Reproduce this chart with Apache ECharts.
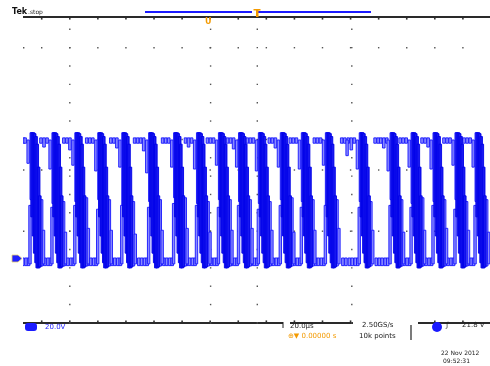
<!DOCTYPE html>
<html><head><meta charset="utf-8">
<script src="https://cdn.jsdelivr.net/npm/echarts/dist/echarts.min.js"></script>
<style>html,body{margin:0;padding:0;background:#fff}#c{width:490px;height:366px}</style>
</head><body><div id="c"></div>
<script>
// time in microseconds (20 us/div), voltage in volts relative to the channel-1 ground marker (20 V/div)
// each entry: [time, low, high] of one narrow pulse seen on the trace
const topFlats = [[0.2,60.5,63.3],[0.9,60.5,63.3],
[7.7,60.5,63.3],[9.0,58.5,63.3],[10.3,60.5,63.3],
[17.5,60.5,63.3],[18.8,60.5,63.3],[20.1,57.0,63.3],
[27.3,60.5,63.3],[28.6,60.5,63.3],[29.9,60.5,63.3],
[37.6,60.5,63.3],[38.9,60.5,63.3],[40.2,58.0,63.3],
[47.8,60.5,63.3],[49.1,60.5,63.3],[50.4,60.5,63.3],[51.7,56.5,63.3],
[59.8,60.5,63.3],[61.1,60.5,63.3],[62.4,60.5,63.3],
[69.6,60.5,63.3],[70.9,58.5,63.3],[72.2,60.5,63.3],
[79.0,60.5,63.3],[80.3,60.5,63.3],[81.6,60.5,63.3],
[87.6,60.5,63.3],[88.9,60.5,63.3],[90.2,57.5,63.3],
[96.1,60.5,63.3],[97.4,60.5,63.3],[98.7,60.5,63.3],
[105.5,60.5,63.3],[106.8,60.5,63.3],[108.1,58.0,63.3],
[114.5,60.5,63.3],[115.8,60.5,63.3],[117.1,60.5,63.3],
[124.8,60.5,63.3],[126.1,60.5,63.3],[127.4,60.5,63.3],
[136.5,60.5,63.3],[137.8,60.5,63.3],[139.3,60.5,63.3],[140.6,57.0,63.3],[141.9,60.5,63.3],
[150.8,60.5,63.3],[152.1,60.5,63.3],[153.2,60.5,63.3],[154.5,58.0,63.3],[155.8,60.5,63.3],
[161.5,60.5,63.3],[162.8,60.5,63.3],[164.1,60.5,63.3],
[170.9,60.5,63.3],[172.2,60.5,63.3],[173.5,58.5,63.3],
[180.3,60.5,63.3],[181.6,60.5,63.3],[182.9,60.5,63.3],
[188.9,60.5,63.3],[190.2,60.5,63.3],[191.5,60.5,63.3]];
const bottomFlats = [[0.0,-3.5,0.5],[1.3,-3.5,0.5],[2.4,-3.5,0.5],
[8.2,-3.5,0.5],[9.4,-3.5,0.5],[10.7,-3.5,0.5],[11.8,-3.5,0.5],
[18.0,-3.5,0.5],[19.2,-3.5,0.5],[20.5,-3.5,0.5],[21.6,-3.5,0.5],
[27.8,-3.5,0.5],[29.0,-3.5,0.5],[30.3,-3.5,0.5],[31.4,-3.5,0.5],
[38.1,-3.5,0.5],[39.3,-3.5,0.5],[40.6,-3.5,0.5],[41.7,-3.5,0.5],
[49.6,-3.5,0.5],[50.8,-3.5,0.5],[52.1,-3.5,0.5],[53.2,-3.5,0.5],
[60.3,-3.5,0.5],[61.5,-3.5,0.5],[62.8,-3.5,0.5],[63.9,-3.5,0.5],
[70.1,-3.5,0.5],[71.3,-3.5,0.5],[72.6,-3.5,0.5],[73.7,-3.5,0.5],
[79.5,-3.5,0.5],[80.7,-3.5,0.5],[82.0,-3.5,0.5],[83.1,-3.5,0.5],
[88.1,-3.5,0.5],[89.3,-3.5,0.5],[90.6,-3.5,0.5],[91.7,-3.5,0.5],
[96.6,-3.5,0.5],[97.8,-3.5,0.5],[99.1,-3.5,0.5],[100.2,-3.5,0.5],
[106.0,-3.5,0.5],[107.2,-3.5,0.5],[108.5,-3.5,0.5],[109.6,-3.5,0.5],
[115.0,-3.5,0.5],[116.2,-3.5,0.5],[117.5,-3.5,0.5],[118.6,-3.5,0.5],
[125.3,-3.5,0.5],[126.5,-3.5,0.5],[127.8,-3.5,0.5],[128.9,-3.5,0.5],
[137.0,-3.5,0.5],[138.3,-3.5,0.5],[139.8,-3.5,0.5],[141.0,-3.5,0.5],[142.3,-3.5,0.5],[143.4,-3.5,0.5],
[151.3,-3.5,0.5],[152.6,-3.5,0.5],[153.8,-3.5,0.5],[155.1,-3.5,0.5],[156.2,-3.5,0.5],
[162.0,-3.5,0.5],[163.2,-3.5,0.5],[164.5,-3.5,0.5],[165.6,-3.5,0.5],
[171.4,-3.5,0.5],[172.6,-3.5,0.5],[173.9,-3.5,0.5],[175.0,-3.5,0.5],
[180.8,-3.5,0.5],[182.0,-3.5,0.5],[183.3,-3.5,0.5],[184.4,-3.5,0.5],
[189.4,-3.5,0.5],[190.6,-3.5,0.5],[191.9,-3.5,0.5],[193.0,-3.5,0.5]];
const pulsesFromTop = [[2.2,50.0,62.2],[3.5,31.0,66.0],
[11.6,47.0,62.2],[12.9,29.0,66.0],
[21.4,49.0,62.2],[22.7,30.0,66.0],
[31.2,46.0,62.2],[32.5,31.0,66.0],
[41.5,48.0,62.2],[42.8,28.0,66.0],
[53.0,45.0,62.2],[54.3,30.0,66.0],
[63.7,48.0,62.2],[65.0,32.0,66.0],
[73.5,47.0,62.2],[74.8,29.0,66.0],
[82.9,49.0,62.2],[84.2,31.0,66.0],
[91.5,48.0,62.2],[92.8,30.0,66.0],
[100.0,46.0,62.2],[101.3,29.0,66.0],
[109.4,48.0,62.2],[110.7,31.0,66.0],
[118.4,47.0,62.2],[119.7,30.0,66.0],
[128.7,49.0,62.2],[130.0,28.0,66.0],
[138.8,54.0,62.2],[143.2,47.0,62.2],[144.5,30.0,66.0],
[156.4,46.0,62.2],[157.7,31.0,66.0],
[165.4,48.0,62.2],[166.7,29.0,66.0],
[174.8,47.0,62.2],[176.1,30.0,66.0],
[184.2,49.0,62.2],[185.5,31.0,66.0],
[192.8,48.0,62.2],[194.1,30.0,66.0]];
const pulsesFromBottom = [[3.0,-2.6,28.0],[8.0,-3.7,31.0],[8.8,-2.6,15.0],
[12.4,-2.6,27.0],[17.4,-3.7,30.0],[18.2,-2.6,14.0],
[22.2,-2.6,28.0],[27.2,-3.7,32.0],[28.0,-2.6,16.0],
[32.0,-2.6,26.0],[37.0,-3.7,31.0],[37.8,-2.6,15.0],
[42.3,-2.6,28.0],[47.3,-3.7,30.0],[48.1,-2.6,13.0],
[53.8,-2.6,27.0],[58.8,-3.7,31.0],[59.6,-2.6,15.0],
[64.5,-2.6,29.0],[69.5,-3.7,32.0],[70.3,-2.6,16.0],
[74.3,-2.6,28.0],[79.3,-3.7,30.0],[80.1,-2.6,14.0],
[83.7,-2.6,27.0],[88.7,-3.7,31.0],[89.5,-2.6,15.0],
[92.3,-2.6,28.0],[97.3,-3.7,31.0],[98.1,-2.6,16.0],
[100.8,-2.6,26.0],[105.8,-3.7,30.0],[106.6,-2.6,15.0],
[110.2,-2.6,28.0],[115.2,-3.7,32.0],[116.0,-2.6,14.0],
[119.2,-2.6,27.0],[124.2,-3.7,31.0],[125.0,-2.6,15.0],
[129.5,-2.6,28.0],[134.5,-3.7,31.0],[135.3,-2.6,16.0],
[144.0,-2.6,27.0],[149.0,-3.7,30.0],[149.8,-2.6,15.0],
[157.2,-2.6,28.0],[162.2,-3.7,31.0],[163.0,-2.6,14.0],
[166.2,-2.6,27.0],[171.2,-3.7,32.0],[172.0,-2.6,15.0],
[175.6,-2.6,28.0],[180.6,-3.7,31.0],[181.4,-2.6,16.0],
[185.0,-2.6,26.0],[190.0,-3.7,30.0],[190.8,-2.6,15.0],
[193.6,-2.6,28.0],[198.6,-3.7,31.0],[199.4,-2.6,14.0]];
const fullSwings = [
[3.9,22,66],[4.5,12,66],[5.0,3,65.5],[5.6,-2,64],[6.1,-4.7,60],[6.7,-4.7,48],[7.2,-4.2,33],
[13.3,22,66],[13.9,12,66],[14.4,3,65.5],[15.0,-2,64],[15.5,-4.7,60],[16.1,-4.7,48],[16.6,-4.2,33],
[23.1,22,66],[23.7,12,66],[24.2,3,65.5],[24.8,-2,64],[25.3,-4.7,60],[25.9,-4.7,48],[26.4,-4.2,33],
[32.9,22,66],[33.5,12,66],[34.0,3,65.5],[34.6,-2,64],[35.1,-4.7,60],[35.7,-4.7,48],[36.2,-4.2,33],
[43.2,22,66],[43.8,12,66],[44.3,3,65.5],[44.9,-2,64],[45.4,-4.7,60],[46.0,-4.7,48],[46.5,-4.2,33],
[54.7,22,66],[55.3,12,66],[55.8,3,65.5],[56.4,-2,64],[56.9,-4.7,60],[57.5,-4.7,48],[58.0,-4.2,33],
[65.4,22,66],[66.0,12,66],[66.5,3,65.5],[67.1,-2,64],[67.6,-4.7,60],[68.2,-4.7,48],[68.7,-4.2,33],
[75.2,22,66],[75.8,12,66],[76.3,3,65.5],[76.9,-2,64],[77.4,-4.7,60],[78.0,-4.7,48],[78.5,-4.2,33],
[84.6,22,66],[85.2,12,66],[85.7,3,65.5],[86.3,-2,64],[86.8,-4.7,60],[87.4,-4.7,48],[87.9,-4.2,33],
[93.2,22,66],[93.8,12,66],[94.3,3,65.5],[94.9,-2,64],[95.4,-4.7,60],[96.0,-4.7,48],[96.5,-4.2,33],
[101.7,22,66],[102.3,12,66],[102.8,3,65.5],[103.4,-2,64],[103.9,-4.7,60],[104.5,-4.7,48],[105.0,-4.2,33],
[111.1,22,66],[111.7,12,66],[112.2,3,65.5],[112.8,-2,64],[113.3,-4.7,60],[113.9,-4.7,48],[114.4,-4.2,33],
[120.1,22,66],[120.7,12,66],[121.2,3,65.5],[121.8,-2,64],[122.3,-4.7,60],[122.9,-4.7,48],[123.4,-4.2,33],
[130.4,22,66],[131.0,12,66],[131.5,3,65.5],[132.1,-2,64],[132.6,-4.7,60],[133.2,-4.7,48],[133.7,-4.2,33],
[144.9,22,66],[145.5,12,66],[146.0,3,65.5],[146.6,-2,64],[147.1,-4.7,60],[147.7,-4.7,48],[148.2,-4.2,33],
[158.1,22,66],[158.7,12,66],[159.2,3,65.5],[159.8,-2,64],[160.3,-4.7,60],[160.9,-4.7,48],[161.4,-4.2,33],
[167.1,22,66],[167.7,12,66],[168.2,3,65.5],[168.8,-2,64],[169.3,-4.7,60],[169.9,-4.7,48],[170.4,-4.2,33],
[176.5,22,66],[177.1,12,66],[177.6,3,65.5],[178.2,-2,64],[178.7,-4.7,60],[179.3,-4.7,48],[179.8,-4.2,33],
[185.9,22,66],[186.5,12,66],[187.0,3,65.5],[187.6,-2,64],[188.1,-4.7,60],[188.7,-4.7,48],[189.2,-4.2,33],
[194.5,22,66],[195.1,12,66],[195.6,3,65.5],[196.2,-2,64],[196.7,-4.7,60],[197.3,-4.7,48],[197.8,-4.2,33]];

const chart = echarts.init(document.getElementById('c'), null, {renderer: 'canvas'});

function barSeries(data, fill, stroke, w) {
  return {
    type: 'custom', data: data, silent: true, clip: true,
    renderItem: function (params, api) {
      const a = api.coord([api.value(0), api.value(2)]);
      const b = api.coord([api.value(0), api.value(1)]);
      return {type: 'rect', shape: {x: a[0] - w / 2, y: a[1], width: w, height: Math.max(1, b[1] - a[1])},
        style: {fill: fill, stroke: stroke, lineWidth: 0.9}};
    }
  };
}

// graticule decoration (pixel layout)
const g = [];
const L = 23, R = 491, T = 17, B = 323;
g.push({type:'line', shape:{x1:L, y1:T, x2:R, y2:T}, style:{stroke:'#2a2a2a', lineWidth:2}});
g.push({type:'line', shape:{x1:L, y1:B, x2:283, y2:B}, style:{stroke:'#2a2a2a', lineWidth:2}});
g.push({type:'line', shape:{x1:290, y1:B, x2:353, y2:B}, style:{stroke:'#2a2a2a', lineWidth:2}});
g.push({type:'line', shape:{x1:418, y1:B, x2:R, y2:B}, style:{stroke:'#2a2a2a', lineWidth:2}});
for (let x = 41.7; x < R; x += 28.08) {
  g.push({type:'rect', shape:{x:x-0.8, y:T+1, width:1.6, height:1.6}, style:{fill:'#333'}});
  if (x < 283 || (x > 290 && x < 353) || x > 418) g.push({type:'rect', shape:{x:x-0.8, y:B-2.6, width:1.6, height:1.6}, style:{fill:'#333'}});
}
[69.8, 210.6, 257.3, 351.8].forEach(function (x) {
  for (let y = 29.3; y < B; y += 18.35) g.push({type:'rect', shape:{x:x-0.7, y:y-0.7, width:1.4, height:1.4}, style:{fill:'#555'}});
});
[47.7, 139.5, 170, 231.2].forEach(function (y) {
  g.push({type:'rect', shape:{x:L, y:y-0.7, width:1.4, height:1.4}, style:{fill:'#555'}});
  for (let x = 41.7; x < R; x += 28.08) g.push({type:'rect', shape:{x:x-0.7, y:y-0.7, width:1.4, height:1.4}, style:{fill:'#555'}});
});
// record bar and markers
g.push({type:'line', shape:{x1:145, y1:12, x2:252, y2:12}, style:{stroke:'#1a1aff', lineWidth:2}});
g.push({type:'line', shape:{x1:258, y1:12, x2:371, y2:12}, style:{stroke:'#1a1aff', lineWidth:2}});
g.push({type:'rect', shape:{x:256, y:9, width:2.5, height:8}, style:{fill:'#f39a00'}});
g.push({type:'rect', shape:{x:253.5, y:9, width:7, height:1.5}, style:{fill:'#f39a00'}});
g.push({type:'text', left:205, top:18, style:{text:'U', fill:'#f39a00', font:'bold 8px "DejaVu Sans"'}});
// ground marker
g.push({type:'polygon', shape:{points:[[12,255],[18,255],[22,258.5],[18,262],[12,262]]}, style:{fill:'#2020ff', stroke:'#e8d070', lineWidth:0.8}});
// texts
g.push({type:'text', left:12, top:8, style:{text:'Tek', fill:'#111', font:'bold 8px "DejaVu Sans"'}});
g.push({type:'text', left:28, top:9, style:{text:'.stop', fill:'#222', font:'6px "DejaVu Sans"'}});
g.push({type:'rect', shape:{x:25, y:323, width:12, height:8, r:3}, style:{fill:'#1a1aff'}});
g.push({type:'text', left:45, top:324, style:{text:'20.0V', fill:'#2020ff', font:'7px "DejaVu Sans"'}});
g.push({type:'line', shape:{x1:283, y1:322, x2:283, y2:328}, style:{stroke:'#222', lineWidth:1}});
g.push({type:'text', left:290, top:323, style:{text:'20.0µs', fill:'#222', font:'7px "DejaVu Sans"'}});
g.push({type:'text', left:288, top:333, style:{text:'⊕▼ 0.00000 s', fill:'#f39a00', font:'7px "DejaVu Sans"'}});
g.push({type:'text', left:362, top:322, style:{text:'2.50GS/s', fill:'#222', font:'7px "DejaVu Sans"'}});
g.push({type:'text', left:359, top:333, style:{text:'10k points', fill:'#222', font:'7px "DejaVu Sans"'}});
g.push({type:'line', shape:{x1:411, y1:325, x2:411, y2:340}, style:{stroke:'#222', lineWidth:1.2}});
g.push({type:'circle', shape:{cx:437, cy:327, r:5}, style:{fill:'#1a1aff'}});
g.push({type:'text', left:446, top:322, style:{text:'ƒ', fill:'#222', font:'7px "DejaVu Sans"'}});
g.push({type:'text', left:462, top:322, style:{text:'21.8 V', fill:'#222', font:'7px "DejaVu Sans"'}});
g.push({type:'text', left:441, top:350, style:{text:'22 Nov 2012', fill:'#222', font:'6px "DejaVu Sans"'}});
g.push({type:'text', left:443, top:358, style:{text:'09:52:31', fill:'#222', font:'6px "DejaVu Sans"'}});

chart.setOption({
  animation: false,
  grid: {left: L, top: T, width: R - L, height: B - T},
  xAxis: {type: 'value', min: 0, max: 200, show: false},
  yAxis: {type: 'value', min: -33.5, max: 126.5, show: false},
  series: [
    barSeries(topFlats, '#8a8aff', '#1515ff', 2.6),
    barSeries(bottomFlats, '#8a8aff', '#1515ff', 2.6),
    barSeries(pulsesFromTop, '#8a8aff', '#1515ff', 2.4),
    barSeries(pulsesFromBottom, '#8a8aff', '#1515ff', 2.4),
    barSeries(fullSwings, '#1818f0', '#0000e8', 2.6)
  ],
  graphic: g
});
</script>
</body></html>
